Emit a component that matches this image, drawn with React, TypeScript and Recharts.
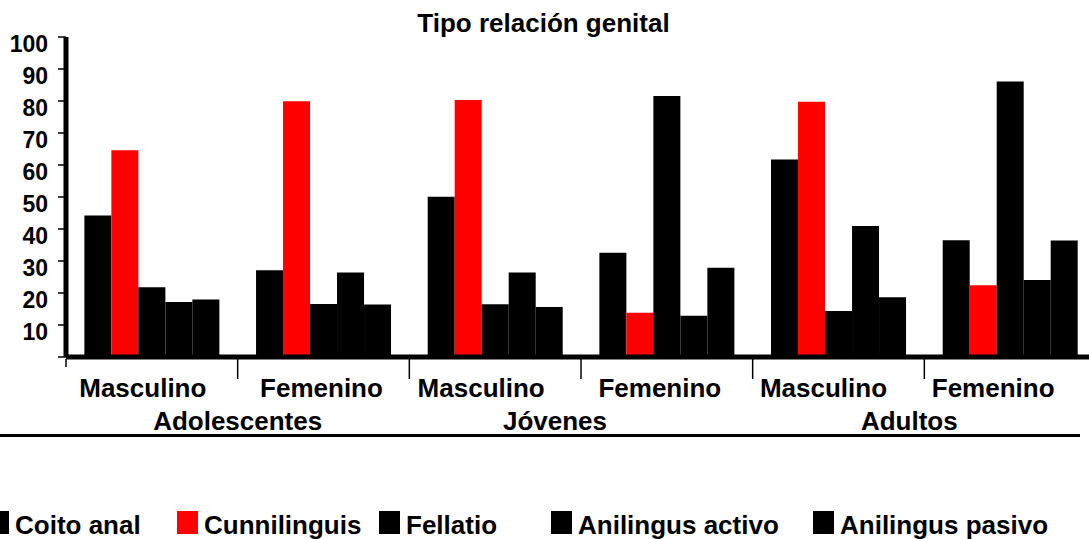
import { Bar, BarChart, Legend, XAxis, YAxis } from "recharts";

// Tipo relación genital — porcentaje por grupo de edad y sexo.

const sexos = ["Masculino", "Femenino", "Masculino", "Femenino", "Masculino", "Femenino"];
const grupos = ["Adolescentes", "Adolescentes", "Jóvenes", "Jóvenes", "Adultos", "Adultos"];

const coitoAnal = [44.2, 27.1, 50.1, 32.6, 61.7, 36.5];
const cunnilinguis = [64.6, 79.9, 80.3, 13.8, 79.8, 22.4];
const fellatio = [21.8, 16.6, 16.5, 81.6, 14.4, 86.1];
const anilingusActivo = [17.2, 26.4, 26.4, 12.9, 40.9, 24.1];
const anilingusPasivo = [18.0, 16.4, 15.6, 27.9, 18.7, 36.4];

const yTicks = [0, 10, 20, 30, 40, 50, 60, 70, 80, 90, 100];

const series = [
  { key: "coito", name: "Coito anal", color: "#000000" },
  { key: "cunni", name: "Cunnilinguis", color: "#ff0000" },
  { key: "fellatio", name: "Fellatio", color: "#000000" },
  { key: "activo", name: "Anilingus activo", color: "#000000" },
  { key: "pasivo", name: "Anilingus pasivo", color: "#000000" },
];

const data = sexos.map((sexo, i) => ({
  sexo,
  grupo: grupos[i],
  coito: coitoAnal[i],
  cunni: cunnilinguis[i],
  fellatio: fellatio[i],
  activo: anilingusActivo[i],
  pasivo: anilingusPasivo[i],
}));

const FONT = '"Liberation Sans", Arial, sans-serif';

// small label nudges so text sits where the original put it
const sexoNudge = [-9, -2, -14, -7, -15, -17];
const grupoNudge = [0, -26, -15];
const legendSlots = [189, 202, 172, 262, 280];

function YTick(props: any) {
  const { x, y, payload } = props;
  if (payload.value === 0) return null;
  return (
    <text
      x={x}
      y={y + 7}
      dy={8}
      textAnchor="end"
      fontFamily={FONT}
      fontWeight="bold"
      fontSize={23}
      fill="#000"
    >
      {payload.value}
    </text>
  );
}

function SexoTick(props: any) {
  const { x, y, payload, index } = props;
  const half = payload.offset ?? 0;
  return (
    <g>
      {index === 0 && (
        <line x1={x - half} x2={x - half} y1={y + 2} y2={y + 10} stroke="#000" strokeWidth={1.5} />
      )}
      <line x1={x + half} x2={x + half} y1={y + 2} y2={y + 22} stroke="#000" strokeWidth={1.5} />
      <text
        x={x + (sexoNudge[index] ?? 0)}
        y={y + 40}
        textAnchor="middle"
        fontFamily={FONT}
        fontWeight="bold"
        fontSize={26}
        fill="#000"
      >
        {payload.value}
      </text>
    </g>
  );
}

function GrupoTick(props: any) {
  const { x, y, payload, index } = props;
  return (
    <text
      x={x + (grupoNudge[index] ?? 0)}
      y={y + 27}
      textAnchor="middle"
      fontFamily={FONT}
      fontWeight="bold"
      fontSize={26}
      fill="#000"
    >
      {payload.value}
    </text>
  );
}

function LegendContent() {
  return (
    <div style={{ display: "flex", fontFamily: FONT, fontWeight: "bold", fontSize: 26, lineHeight: "30px" }}>
      {series.map((s, i) => (
        <div key={s.key} style={{ width: legendSlots[i], whiteSpace: "nowrap" }}>
          <span
            style={{
              display: "inline-block",
              width: 21,
              height: 23,
              background: s.color,
              marginRight: 6,
              verticalAlign: "baseline",
            }}
          />
          {s.name}
        </div>
      ))}
    </div>
  );
}

export default function App() {
  return (
    <div
      style={{
        position: "fixed",
        left: 0,
        top: 0,
        width: 1089,
        height: 539,
        overflow: "hidden",
        background: "#fff",
      }}
    >
      <div
        style={{
          position: "absolute",
          left: 0,
          top: 8,
          width: 1087,
          textAlign: "center",
          fontFamily: FONT,
          fontWeight: "bold",
          fontSize: 26,
          lineHeight: "30px",
        }}
      >
        Tipo relación genital
      </div>
      <BarChart
        width={1100}
        height={539}
        data={data}
        margin={{ top: 37, right: 4, bottom: 96, left: 0 }}
        barCategoryGap="10.7%"
        barGap={0}
      >
        <YAxis
          width={66}
          domain={[0, 100]}
          ticks={yTicks}
          interval={0}
          axisLine={{ stroke: "#000", strokeWidth: 5 }}
          tickLine={{ stroke: "#000", strokeWidth: 1.5 }}
          tickSize={8}
          tickMargin={10}
          tick={<YTick />}
        />
        <XAxis
          dataKey="sexo"
          height={46}
          interval={0}
          axisLine={{ stroke: "#000", strokeWidth: 5 }}
          tickLine={false}
          tickSize={0}
          tickMargin={0}
          tick={<SexoTick />}
        />
        <XAxis
          xAxisId="grupo"
          dataKey="grupo"
          allowDuplicatedCategory={false}
          height={40}
          interval={0}
          axisLine={false}
          tickLine={false}
          tickSize={0}
          tickMargin={0}
          tick={<GrupoTick />}
        />
        <Legend
          layout="horizontal"
          verticalAlign="middle"
          align="center"
          content={<LegendContent />}
          wrapperStyle={{ position: "absolute", left: -12, top: 510, width: 1120, height: 30 }}
        />
        {series.map((s) => (
          <Bar
            key={s.key}
            dataKey={s.key}
            name={s.name}
            fill={s.color}
            isAnimationActive={false}
          />
        ))}
      </BarChart>
      <div
        style={{
          position: "absolute",
          left: 0,
          top: 434,
          width: 1080,
          height: 3,
          background: "#000",
        }}
      />
    </div>
  );
}
